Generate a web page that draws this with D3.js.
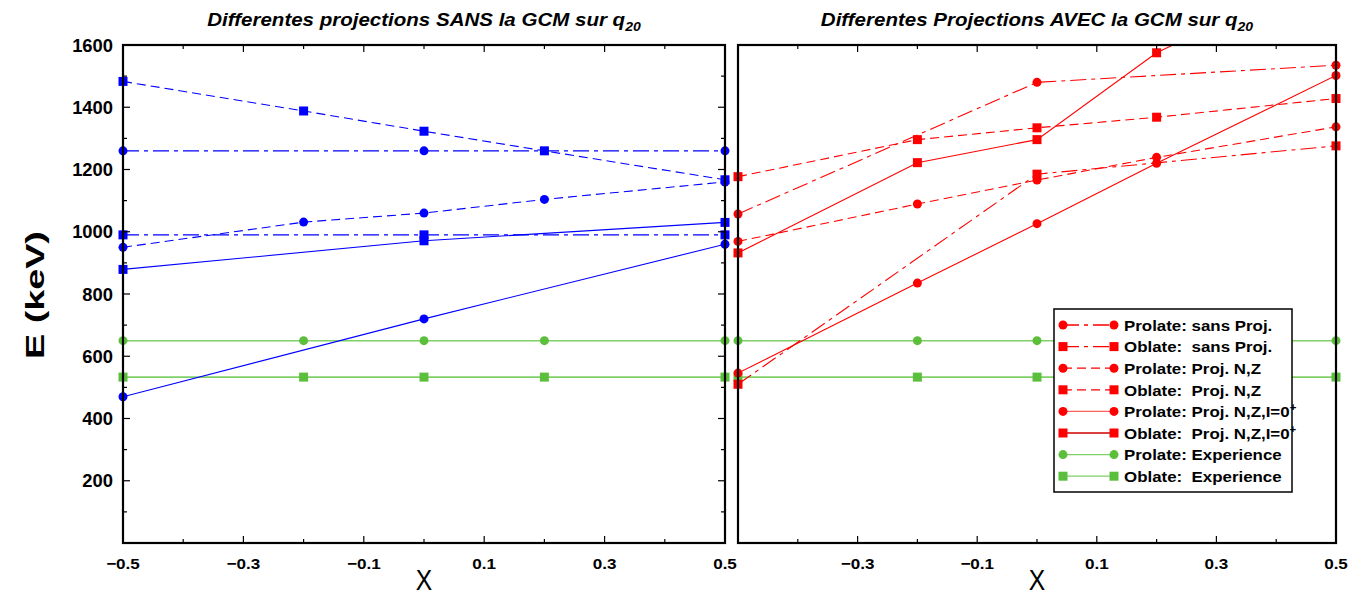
<!DOCTYPE html>
<html><head><meta charset="utf-8">
<script src="https://cdn.jsdelivr.net/npm/d3@7"></script>
<style>body{margin:0;background:#fff}svg{display:block;font-family:"Liberation Sans",Arial,sans-serif}</style>
</head><body><svg id="c" width="1363" height="595"></svg>
<script>
const xs = [-0.5, -0.2, 0, 0.2, 0.5];
// Left panel (sans GCM) - blue
const leftProlateSans = [1260, null, 1260, null, 1260];
const leftOblateSans  = [990, null, 990, null, 990];
const leftProlateNZ   = [950, 1031, 1060, 1104, 1160];
const leftOblateNZ    = [1483, 1388, 1323, 1260, 1167];
const leftProlateNZI  = [470, null, 720, null, 960];
const leftOblateNZI   = [879, null, 971, null, 1030];
// Right panel (avec GCM) - red
const rightProlateSans = [1057, null, 1480, null, 1535];
const rightOblateSans  = [510, null, 1185, null, 1276];
const rightProlateNZ   = [969, 1089, 1166, 1239, 1337];
const rightOblateNZ    = [1177, 1296, 1334, 1368, 1428];
const rightProlateNZI  = [546, 835, 1026, 1220, 1502];
const rightOblateNZI   = [932, 1222, 1296, 1575, 1850];
// Experience - green
const expProlate = [650, 650, 650, 650, 650];
const expOblate  = [533, 533, 533, 533, 533];

const yTicks = [200, 400, 600, 800, 1000, 1200, 1400, 1600];
const xTicksLeft = [-0.5, -0.3, -0.1, 0.1, 0.3, 0.5];
const xTicksRight = [-0.3, -0.1, 0.1, 0.3, 0.5];
const legendLabels = ["Prolate: sans Proj.", "Oblate:  sans Proj.", "Prolate: Proj. N,Z", "Oblate:  Proj. N,Z",
  "Prolate: Proj. N,Z,I=0", "Oblate:  Proj. N,Z,I=0", "Prolate: Experience", "Oblate:  Experience"];

const BLUE = "#0000ff", RED = "#ff0000", GREEN = "#5cbf3c", GREENL = "#80d068";
const DASH = "9,5", DASHDOT = "16,5,4,5";

const svg = d3.select("#c");
const y = d3.scaleLinear().domain([0, 1600]).range([543, 45]);
const panels = [
  {x: d3.scaleLinear().domain([-0.5, 0.5]).range([123, 725]), color: BLUE, yt: true, xticks: xTicksLeft,
   title: "Differentes projections SANS la GCM sur q",
   series: [[leftProlateSans, "c", DASHDOT], [leftOblateSans, "s", DASHDOT], [leftProlateNZ, "c", DASH],
            [leftOblateNZ, "s", DASH], [leftProlateNZI, "c", null], [leftOblateNZI, "s", null]]},
  {x: d3.scaleLinear().domain([-0.5, 0.5]).range([738, 1336]), color: RED, yt: false, xticks: xTicksRight,
   title: "Differentes Projections AVEC la GCM sur q",
   series: [[rightProlateSans, "c", DASHDOT], [rightOblateSans, "s", DASHDOT], [rightProlateNZ, "c", DASH],
            [rightOblateNZ, "s", DASH], [rightProlateNZI, "c", null], [rightOblateNZI, "s", null]]}
];

function stext(parent, x, yy, sx, rot) {
  const g = parent.append("g").attr("transform", `translate(${x},${yy})` + (rot ? ` rotate(${rot})` : "") + ` scale(${sx},1)`);
  return g.append("text").attr("x", 0).attr("y", 0);
}

function marker(g, shape, cx, cy, color) {
  if (shape === "c") g.append("circle").attr("cx", cx).attr("cy", cy).attr("r", 4.5).attr("fill", color);
  else g.append("rect").attr("x", cx - 4.5).attr("y", cy - 4.5).attr("width", 9).attr("height", 9).attr("fill", color);
}

panels.forEach((p, i) => {
  const x = p.x;
  const [x0, x1] = x.range();
  const id = "clip" + i;
  svg.append("clipPath").attr("id", id).append("rect").attr("x", x0).attr("y", 45).attr("width", x1 - x0).attr("height", 498);
  const g = svg.append("g");
  const line = d3.line().x(d => x(d[0])).y(d => y(d[1]));
  const draw = (vals, shape, dash, color, lineColor, w) => {
    const pts = xs.map((v, k) => [v, vals[k]]).filter(d => d[1] != null);
    g.append("path").attr("d", line(pts)).attr("fill", "none").attr("stroke", lineColor).attr("stroke-width", w)
      .attr("stroke-dasharray", dash).attr("clip-path", `url(#${id})`);
    pts.filter(d => d[1] <= 1600).forEach(d => marker(g, shape, x(d[0]), y(d[1]), color));
  };
  draw(expProlate, "c", null, GREEN, GREENL, 1.6);
  draw(expOblate, "s", null, GREEN, GREENL, 1.6);
  p.series.forEach(s => draw(s[0], s[1], s[2], p.color, p.color, 1.1));

  // frame
  svg.append("rect").attr("x", x0).attr("y", 45).attr("width", x1 - x0).attr("height", 498)
    .attr("fill", "none").attr("stroke", "#000").attr("stroke-width", 2.2);
  // x ticks (top and bottom)
  d3.range(-0.4, 0.45, 0.1).forEach(t => {
    const major = Math.abs(Math.round(t * 10)) % 2 === 1;
    const len = major ? 7 : 4;
    svg.append("line").attr("x1", x(t)).attr("x2", x(t)).attr("y1", 543).attr("y2", 543 - len).attr("stroke", "#000").attr("stroke-width", 1.2);
    svg.append("line").attr("x1", x(t)).attr("x2", x(t)).attr("y1", 45).attr("y2", 45 + len).attr("stroke", "#000").attr("stroke-width", 1.2);
  });
  p.xticks.forEach(t => {
    stext(svg, x(t), 569, 1.1).attr("text-anchor", "middle").attr("font-size", 15.5)
      .attr("font-weight", "bold").text(d3.format(".1f")(t).replace("-", "−"));
  });
  // y ticks
  if (p.yt) {
    d3.range(100, 1600, 100).forEach(v => {
      const len = v % 200 === 0 ? 7 : 4;
      svg.append("line").attr("x1", x0).attr("x2", x0 + len).attr("y1", y(v)).attr("y2", y(v)).attr("stroke", "#000").attr("stroke-width", 1.2);
      svg.append("line").attr("x1", x1).attr("x2", x1 - len).attr("y1", y(v)).attr("y2", y(v)).attr("stroke", "#000").attr("stroke-width", 1.2);
    });
    yTicks.forEach(v => {
      stext(svg, 113, y(v) + 6.5, 1.05).attr("text-anchor", "end").attr("font-size", 17.5)
        .attr("font-weight", "bold").text(v);
    });
  }
  // axis label
  stext(svg, (x0 + x1) / 2, 590, 0.85).attr("text-anchor", "middle").attr("font-size", 29).text("X");
  // title
  const tt = stext(svg, (x0 + x1) / 2, 26, 1.08).attr("text-anchor", "middle")
    .attr("font-size", 19).attr("font-weight", "bold").attr("font-style", "italic");
  tt.append("tspan").text(p.title);
  tt.append("tspan").attr("font-size", 13).attr("dy", 5).text("20");
});

stext(svg, 44, 295, 1.45, -90).attr("text-anchor", "middle")
  .attr("font-size", 26).attr("font-weight", "bold").text("E (keV)");

// legend
const lg = svg.append("g");
lg.append("rect").attr("x", 1054).attr("y", 309).attr("width", 238).attr("height", 183)
  .attr("fill", "#fff").attr("stroke", "#000").attr("stroke-width", 1.5);
const legStyles = [[RED, "c", DASHDOT, RED], [RED, "s", DASHDOT, RED], [RED, "c", DASH, RED], [RED, "s", DASH, RED],
  [RED, "c", null, "#ff6060"], [RED, "s", null, "#d00000"], [GREEN, "c", null, GREENL], [GREEN, "s", null, GREENL]];
legendLabels.forEach((lab, i) => {
  const cy = 325 + i * 21.6;
  const st = legStyles[i];
  lg.append("line").attr("x1", 1063).attr("x2", 1114).attr("y1", cy).attr("y2", cy).attr("stroke", st[3])
    .attr("stroke-width", 1.3).attr("stroke-dasharray", st[2]);
  marker(lg, st[1], 1063, cy, st[0]);
  marker(lg, st[1], 1114, cy, st[0]);
  const t = stext(lg, 1124, cy + 5.8, 1.09).attr("font-size", 15.5).attr("font-weight", "bold")
    .style("white-space", "pre");
  t.append("tspan").text(lab);
  if (i === 4 || i === 5) t.append("tspan").attr("font-size", 10.5).attr("dy", -6).text("+");
});
</script></body></html>
